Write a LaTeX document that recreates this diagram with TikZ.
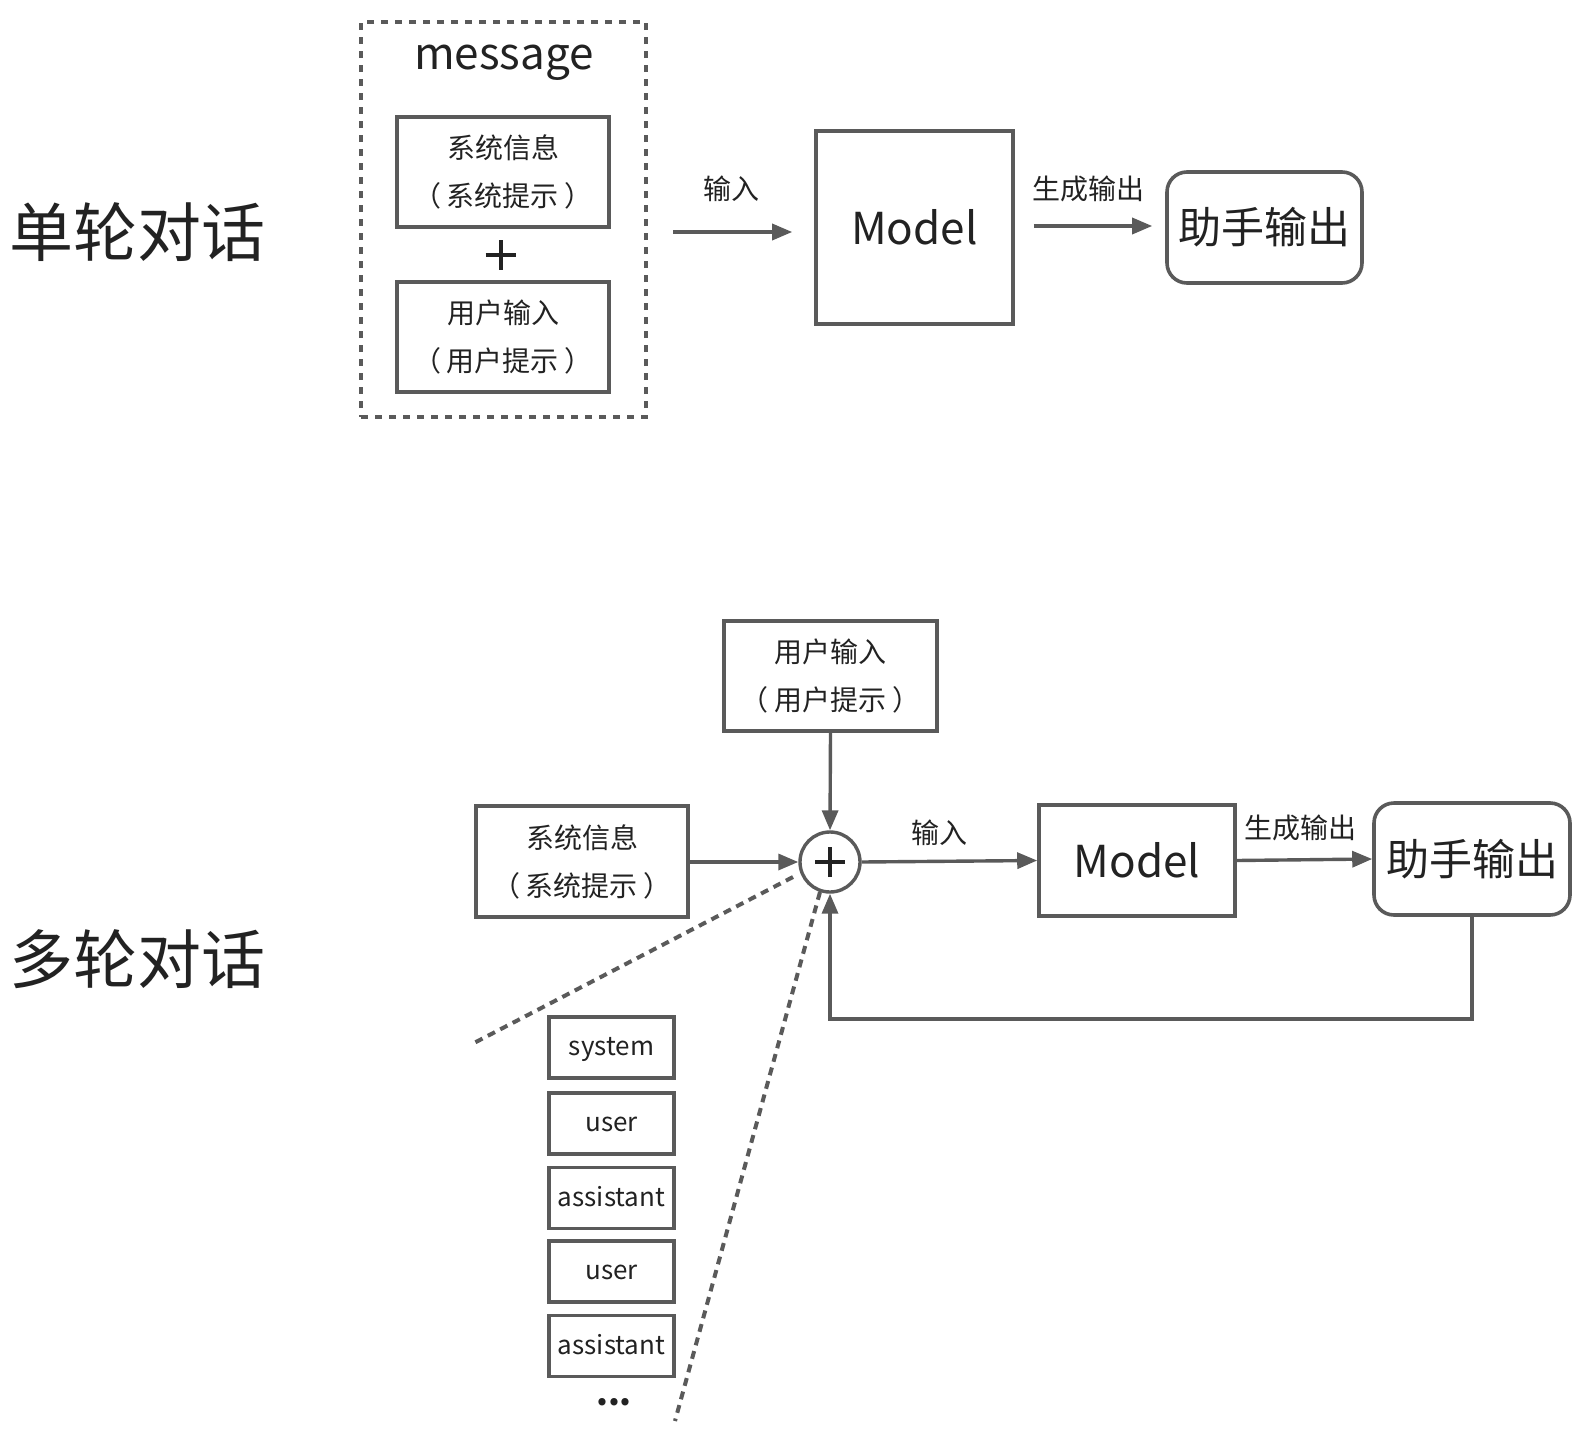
\documentclass[tikz,border=0pt]{standalone}
\usepackage{fontspec}
\setmainfont{Noto Sans CJK SC}
\usetikzlibrary{arrows.meta}
\definecolor{ln}{HTML}{5A5A5A}
\definecolor{tx}{HTML}{222222}
\newcommand{\lp}{（\hspace{3pt}}
\newcommand{\rp}{\hspace{3pt}）}
\begin{document}
\begin{tikzpicture}[x=0.5pt,y=-0.5pt,
  box/.style={draw=ln, line width=1.8pt, rectangle, inner sep=0pt, align=center, text=tx},
  two/.style={font=\fontsize{14}{24}\selectfont},
  lbl/.style={text=tx, inner sep=0pt, font=\fontsize{14}{17}\selectfont},
  big/.style={text=tx, inner sep=0pt, font=\fontsize{32}{36}\selectfont},
  arr/.style={draw=ln, line width=1.7pt, -{Triangle[length=10pt,width=8pt]}},
  dsh/.style={draw=ln, line width=2pt, dash pattern=on 4pt off 3pt},
  pl/.style={draw=tx, line width=2pt},
  stk/.style={box, minimum width=62.5pt, minimum height=30.5pt, font=\fontsize{13}{16}\selectfont, text height=0.9em, text depth=0.1em},
]
\useasboundingbox (0,0) rectangle (1580,1440);

% ---------- single turn ----------
\node[big] (t1) at (138,232) {单轮对话};
\node[draw=ln, line width=2pt, dash pattern=on 3.5pt off 3.5pt, minimum width=142.5pt, minimum height=197.5pt, inner sep=0pt] (msg) at (503.5,219.5) {};
\node[text=tx, inner sep=0pt, font=\fontsize{22}{26}\selectfont] (msgt) at (504,63) {message};
\node[box, two, minimum width=106pt, minimum height=55pt] (sys1) at (503,172) {系统信息\\\lp 系统提示\rp};
\node[box, two, minimum width=106pt, minimum height=55pt] (usr1) at (503,337) {用户输入\\\lp 用户提示\rp};
\coordinate (p1) at (500.5,254.5);
\draw[pl] ([xshift=-7.5pt]p1) -- ([xshift=7.5pt]p1);
\draw[pl] ([yshift=-7.5pt]p1) -- ([yshift=7.5pt]p1);

\node[box, minimum width=98.5pt, minimum height=96.5pt, font=\fontsize{22}{26}\selectfont] (mod1) at (914.5,227.5) {Model};
\node[box, rounded corners=10pt, minimum width=97.5pt, minimum height=55.5pt, font=\fontsize{21.5}{26}\selectfont] (out1) at (1264.5,227.5) {助手输出};
\coordinate (a1s) at (673,232);
\draw[arr, shorten >=11pt] (a1s) -- (mod1.west |- a1s);
\node[lbl] (in1) at (731,189) {输入};
\draw[arr, shorten <=9.5pt, shorten >=6.5pt] (mod1.east |- 0,226) -- (out1.west |- 0,226);
\node[lbl] (gen1) at (1088,189) {生成输出};

% ---------- multi turn ----------
\node[big] (t2) at (138,959) {多轮对话};
\node[box, two, minimum width=106.5pt, minimum height=55pt] (usr2) at (830.5,676) {用户输入\\\lp 用户提示\rp};
\node[box, two, minimum width=106pt, minimum height=55.5pt] (sys2) at (582,861.5) {系统信息\\\lp 系统提示\rp};
\node[draw=ln, line width=1.7pt, circle, minimum size=30pt, inner sep=0pt] (cp) at (830,862) {};
\draw[pl] ([xshift=-7.5pt]cp.center) -- ([xshift=7.5pt]cp.center);
\draw[pl] ([yshift=-7.5pt]cp.center) -- ([yshift=7.5pt]cp.center);
\node[box, minimum width=98pt, minimum height=55.5pt, font=\fontsize{22}{26}\selectfont] (mod2) at (1137,860.5) {Model};
\node[box, rounded corners=10pt, minimum width=98pt, minimum height=56pt, font=\fontsize{21.5}{26}\selectfont] (out2) at (1472,859) {助手输出};

\draw[arr] (sys2.east |- cp) -- (cp.west);
\draw[arr] (usr2.south) -- (cp.north);
\draw[arr] (cp.east) -- (mod2.west);
\node[lbl] (in2) at (939,833) {输入};
\draw[arr] (mod2.east) -- (out2.west);
\node[lbl] (gen2) at (1300,828) {生成输出};
\coordinate (fb) at (830,1019);
\draw[arr] (out2.south) -- (out2.south |- fb) -| (cp.south);

% stack
\node[stk] (s1) at (611.5,1047.5) {system};
\node[stk] (s2) at (611.5,1123.5) {user};
\node[stk] (s3) at (611.5,1198) {assistant};
\node[stk] (s4) at (611.5,1271.5) {user};
\node[stk] (s5) at (611.5,1346) {assistant};
\node[text=tx, inner sep=0pt, font=\fontsize{17}{20}\bfseries] (dots) at (614,1402) {...};

\coordinate (d1a) at (793,877);
\coordinate (d1b) at (474,1043);
\coordinate (d2a) at (820,892);
\coordinate (d2b) at (675,1421);
\draw[dsh] (d1a) -- (d1b);
\draw[dsh] (d2a) -- (d2b);
\end{tikzpicture}
\end{document}
